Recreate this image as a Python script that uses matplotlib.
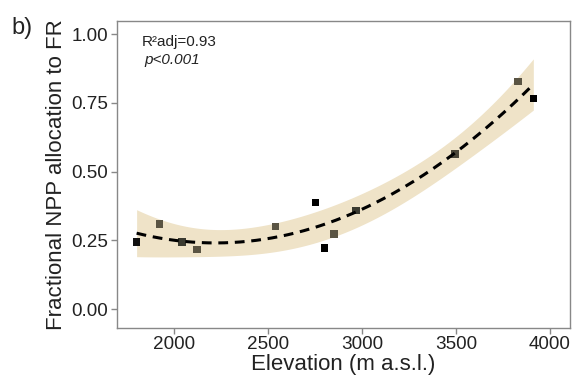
import numpy as np
import matplotlib
matplotlib.use("Agg")
import matplotlib.pyplot as plt

plt.rcParams['font.family'] = ['Liberation Sans', 'DejaVu Sans']

# elevation (m a.s.l.) and fractional NPP allocation to fine roots
elevation = [1801, 1922, 2041, 2121, 2539, 2752, 2800, 2851, 2968, 3495, 3828, 3911]
npp_frac = [0.243, 0.309, 0.244, 0.217, 0.300, 0.387, 0.221, 0.274, 0.359, 0.564, 0.828, 0.766]
# marker colour per point (some black, some dark olive)
point_colors = ['#111111', '#5a5443', '#3a3a30', '#5a5443', '#5a5443', '#000000',
                '#000000', '#5a5443', '#3a3a30', '#4a4638', '#5a5443', '#000000']

x = np.array(elevation, dtype=float)
y = np.array(npp_frac)

# quadratic fit + 95% confidence band (like geom_smooth)
X = np.column_stack([np.ones_like(x), x, x**2])
beta, res, rk, sv = np.linalg.lstsq(X, y, rcond=None)
n, p = X.shape
resid = y - X @ beta
s2 = resid @ resid / (n - p)
cov = s2 * np.linalg.inv(X.T @ X)
xs = np.linspace(x.min(), x.max(), 200)
Xs = np.column_stack([np.ones_like(xs), xs, xs**2])
ys = Xs @ beta
se = np.sqrt(np.einsum('ij,jk,ik->i', Xs, cov, Xs))
tval = 2.262  # t(0.975, df=9)

fig = plt.figure(figsize=(5.74, 3.76), dpi=100)
ax = fig.add_axes([0.2033, 0.1285, 0.7897, 0.8155])

ax.fill_between(xs, ys - tval * se, ys + tval * se, color='#efe3c8', lw=0, zorder=1)
ax.plot(xs, ys, color='black', lw=2.2, ls=(0, (3.2, 2.2)), zorder=3)
ax.scatter(x, y, marker='s', s=30, c=point_colors, edgecolors='none', zorder=2)

ax.set_xlim(1695, 4106)
ax.set_ylim(-0.068, 1.048)
ax.set_xticks([2000, 2500, 3000, 3500, 4000])
ax.set_yticks([0.0, 0.25, 0.5, 0.75, 1.0])
ax.set_yticklabels(['0.00', '0.25', '0.50', '0.75', '1.00'])

for sp in ax.spines.values():
    sp.set_color('#888888')
    sp.set_linewidth(1.0)
ax.tick_params(colors='#888888', labelcolor='#222222', labelsize=13.6, length=4, width=1, pad=2)

ax.set_xlabel('Elevation (m a.s.l.)', fontsize=16, color='#222222', labelpad=1)
ax.set_ylabel('Fractional NPP allocation to FR', fontsize=16, color='#222222', labelpad=3)

ax.text(0.055, 0.955, 'R²adj=0.93', transform=ax.transAxes, fontsize=11, va='top', color='#222222')
ax.text(0.06, 0.895, 'p<0.001', transform=ax.transAxes, fontsize=11, va='top', style='italic', color='#222222')
fig.text(0.02, 0.955, 'b)', fontsize=17, va='top', color='#222222')

fig.savefig('out.png', dpi=100)
